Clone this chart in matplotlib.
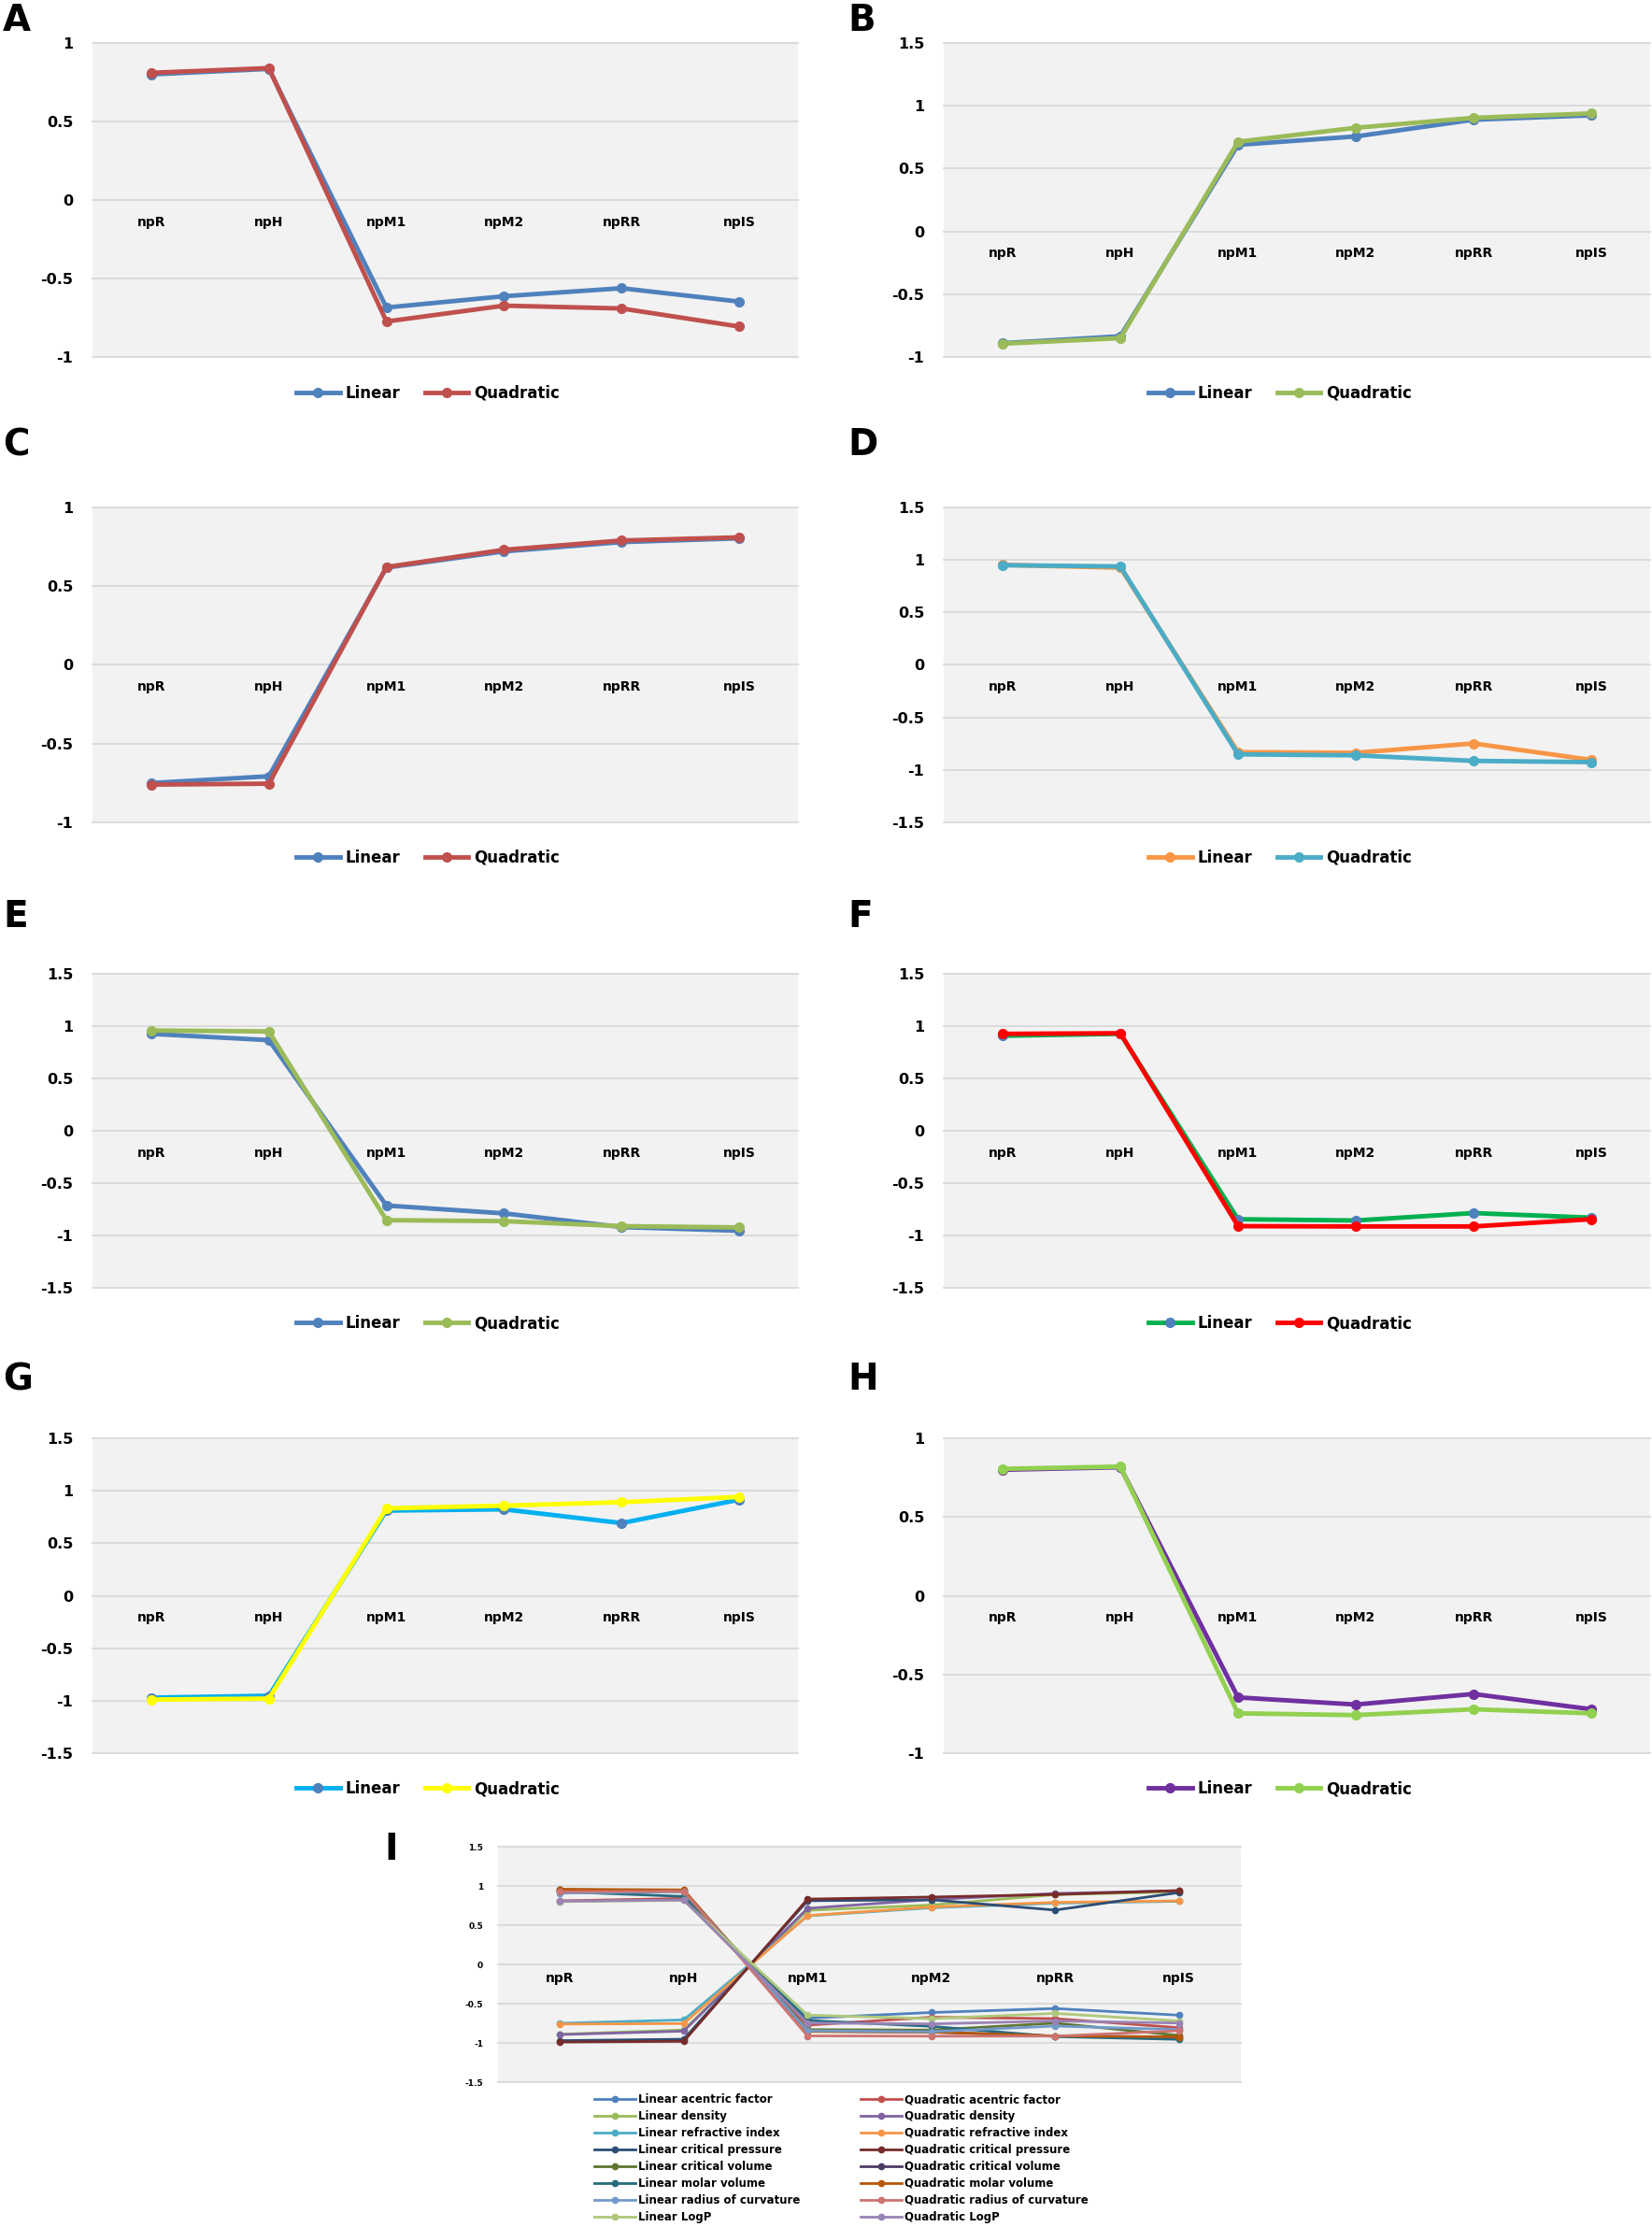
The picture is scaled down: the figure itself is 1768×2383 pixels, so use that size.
import numpy as np
import matplotlib
matplotlib.use('Agg')
import matplotlib.pyplot as plt
from matplotlib.ticker import FuncFormatter

plt.rcParams['font.family'] = ['DejaVu Sans']
plt.rcParams['font.weight'] = 'bold'
plt.rcParams['axes.unicode_minus'] = False

W, H = 1768, 2383

categories = ['npR', 'npH', 'npM1', 'npM2', 'npRR', 'npIS']

# values
acentric_lin = [0.80, 0.835, -0.685, -0.613, -0.562, -0.647]      # A
acentric_quad = [0.81, 0.84, -0.774, -0.673, -0.691, -0.806]
density_lin = [-0.89, -0.835, 0.689, 0.756, 0.889, 0.924]          # B
density_quad = [-0.894, -0.85, 0.714, 0.825, 0.904, 0.939]
refractive_lin = [-0.75, -0.707, 0.618, 0.721, 0.78, 0.804]        # C
refractive_quad = [-0.76, -0.754, 0.622, 0.731, 0.79, 0.81]
crit_vol_lin = [0.953, 0.926, -0.831, -0.837, -0.748, -0.905]      # D
crit_vol_quad = [0.95, 0.938, -0.852, -0.861, -0.914, -0.926]
molar_vol_lin = [0.926, 0.866, -0.714, -0.789, -0.92, -0.955]      # E
molar_vol_quad = [0.958, 0.949, -0.854, -0.863, -0.911, -0.923]
curvature_lin = [0.908, 0.926, -0.845, -0.857, -0.786, -0.83]      # F
curvature_quad = [0.926, 0.932, -0.911, -0.914, -0.914, -0.845]
crit_press_lin = [-0.971, -0.953, 0.811, 0.823, 0.692, 0.915]      # G
crit_press_quad = [-0.989, -0.98, 0.832, 0.858, 0.891, 0.941]
logp_lin = [0.80, 0.816, -0.646, -0.691, -0.624, -0.721]           # H
logp_quad = [0.806, 0.82, -0.747, -0.758, -0.721, -0.747]

# panel I series in Excel order
props_I = ['acentric factor', 'density', 'refractive index', 'critical pressure',
           'critical volume', 'molar volume', 'radius of curvature', 'LogP']
lin_I = [acentric_lin, density_lin, refractive_lin, crit_press_lin,
         crit_vol_lin, molar_vol_lin, curvature_lin, logp_lin]
quad_I = [acentric_quad, density_quad, refractive_quad, crit_press_quad,
          crit_vol_quad, molar_vol_quad, curvature_quad, logp_quad]
colors_I = ['#4F81BD', '#C0504D', '#9BBB59', '#8064A2', '#4BACC6', '#F79646',
            '#2C4D75', '#772C2A', '#5F7530', '#4D3B62', '#276A7C', '#B65708',
            '#729ACA', '#CD7371', '#AFC97A', '#9983B5']


def rect(l, t, r, b):
    return [l / W, 1 - b / H, (r - l) / W, (b - t) / H]


def style_axes(ax, ylim, tick_fs, cat_fs, ypad, xpad):
    ax.set_facecolor('#F2F2F2')
    ax.set_xlim(-0.5, 5.5)
    ax.set_ylim(*ylim)
    ax.set_yticks(np.arange(ylim[0], ylim[1] + 0.01, 0.5))
    ax.yaxis.set_major_formatter(FuncFormatter(lambda v, p: '%g' % v))
    ax.set_xticks(range(len(categories)))
    ax.set_xticklabels(categories, fontsize=cat_fs, fontweight='bold')
    for s in ['top', 'right', 'left']:
        ax.spines[s].set_visible(False)
    ax.spines['bottom'].set_position(('data', 0))
    ax.spines['bottom'].set_visible(False)
    ax.tick_params(axis='y', length=0, pad=ypad, labelsize=tick_fs)
    ax.tick_params(axis='x', length=0, pad=xpad)
    ax.grid(axis='y', color='#D9D9D9', lw=1.3)
    ax.set_axisbelow(True)
    for gl in ax.get_ygridlines():
        gl.set_clip_on(False)


def main():
    fig = plt.figure(figsize=(W / 100, H / 100), dpi=100)

    x = np.arange(len(categories))
    blue, red, green = '#4F81BD', '#C0504D', '#9BBB59'

    panels = [
        ('A', acentric_lin, acentric_quad, (blue, blue), (red, red), (-1, 1), (99, 46, 854, 382), (3, 3), (458, 421)),
        ('B', density_lin, density_quad, (blue, blue), (green, green), (-1, 1.5), (1010, 46, 1766, 382), (907, 3), (1370, 421)),
        ('C', refractive_lin, refractive_quad, (blue, blue), (red, red), (-1, 1), (99, 543, 854, 880), (3, 457), (458, 918)),
        ('D', crit_vol_lin, crit_vol_quad, ('#F79646', '#F79646'), ('#4BACC6', '#4BACC6'), (-1.5, 1.5), (1010, 543, 1766, 880), (907, 457), (1370, 918)),
        ('E', molar_vol_lin, molar_vol_quad, (blue, blue), (green, green), (-1.5, 1.5), (99, 1042, 854, 1378), (3, 962), (458, 1416)),
        ('F', curvature_lin, curvature_quad, ('#00B050', blue), ('#FF0000', '#FF0000'), (-1.5, 1.5), (1010, 1042, 1766, 1378), (907, 962), (1370, 1416)),
        ('G', crit_press_lin, crit_press_quad, ('#00B0F0', blue), ('#FFFF00', '#FFFF00'), (-1.5, 1.5), (99, 1539, 854, 1876), (3, 1457), (458, 1914)),
        ('H', logp_lin, logp_quad, ('#7030A0', '#7030A0'), ('#92D050', '#92D050'), (-1, 1), (1010, 1539, 1766, 1876), (907, 1457), (1370, 1914)),
    ]

    for lab, lin, quad, lc, qc, ylim, r, lpos, legpos in panels:
        ax = fig.add_axes(rect(*r))
        style_axes(ax, ylim, 11.5, 12, 15, 12)
        ax.plot(x, lin, color=lc[0], lw=3.5, marker='o', ms=7, mfc=lc[1], mec=lc[1], label='Linear')
        ax.plot(x, quad, color=qc[0], lw=3.5, marker='o', ms=7, mfc=qc[1], mec=qc[1], label='Quadratic')
        fig.text(lpos[0] / W, 1 - lpos[1] / H, lab, fontsize=28, fontweight='bold', va='top', ha='left')
        fig.legend(*ax.get_legend_handles_labels(), loc='center',
                   bbox_to_anchor=(legpos[0] / W, 1 - legpos[1] / H), ncol=2, frameon=False,
                   fontsize=12, handlelength=2.8, handletextpad=0.35, columnspacing=1.6,
                   borderpad=0)

    # panel I: all properties together
    axI = fig.add_axes(rect(533, 1976, 1328, 2228))
    style_axes(axI, (-1.5, 1.5), 6.5, 8, 11.5, 5.5)
    lin_handles, quad_handles = [], []
    for i in range(len(props_I)):
        hl, = axI.plot(x, lin_I[i], color=colors_I[2 * i], lw=2, marker='o', ms=4.5,
                       label='Linear ' + props_I[i])
        hq, = axI.plot(x, quad_I[i], color=colors_I[2 * i + 1], lw=2, marker='o', ms=4.5,
                       label='Quadratic ' + props_I[i])
        lin_handles.append(hl)
        quad_handles.append(hq)
    fig.text(411 / W, 1 - 1960 / H, 'I', fontsize=28, fontweight='bold', va='top', ha='left')
    handles = lin_handles + quad_handles
    fig.legend(handles, [h.get_label() for h in handles], loc='upper left',
               bbox_to_anchor=(636 / W, 1 - 2240 / H), ncol=2, frameon=False,
               fontsize=8.5, handlelength=3.7, handletextpad=0.25, columnspacing=5.5,
               labelspacing=0.42, borderpad=0, borderaxespad=0)

    plt.savefig('out.png', dpi=100)


if __name__ == '__main__':
    main()
